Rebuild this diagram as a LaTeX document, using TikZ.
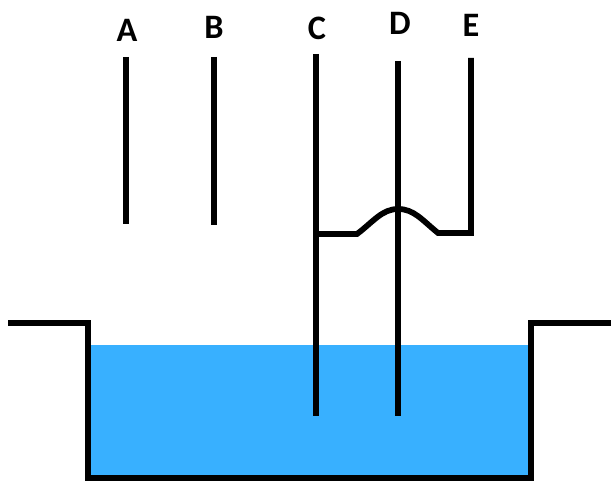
\documentclass[tikz,border=0pt]{standalone}
\usepackage{fontspec}
\setmainfont{Carlito}
\definecolor{waterblue}{HTML}{38B0FF}
\tikzset{
  wire/.style={line width=0.115cm},
  tankwall/.style={line width=0.125cm,line join=miter},
  letter/.style={font=\fontsize{19.5}{22}\selectfont\bfseries,inner sep=0pt}
}

\begin{document}
\begin{tikzpicture}[x=0.02cm,y=0.02cm]
    \useasboundingbox (0,0) rectangle (611,482);
    \coordinate (T0) at (8,159);
    \coordinate (T1) at (88,159);
    \coordinate (T2) at (88,4);
    \coordinate (T3) at (531,4);
    \coordinate (T4) at (531,159);
    \coordinate (T5) at (611,159);
    \coordinate (A0) at (126,425);
    \coordinate (A1) at (126,258);
    \coordinate (B0) at (214,425);
    \coordinate (B1) at (214,257);
    \coordinate (C0) at (316,428);
    \coordinate (C1) at (316,66);
    \coordinate (D0) at (398,421);
    \coordinate (D1) at (398,66);
    \coordinate (E0) at (471,424);
    \coordinate (E1) at (471,249);
    \coordinate (J0) at (316,248);
    \coordinate (J1) at (357,248);
    \coordinate (J2) at (398,273);
    \coordinate (J3) at (438,249);
      \fill [waterblue] (90,6) rectangle (529,137);
      \draw [tankwall] (T0) -- (T1) -- (T2) -- (T3) -- (T4) -- (T5);
      \draw [wire] (A0) -- (A1);
      \draw [wire] (B0) -- (B1);
      \draw [wire] (C0) -- (C1);
      \draw [wire] (D0) -- (D1);
      \draw [wire,line join=miter] (E0) -- (E1) -- (J3)
        .. controls (422,262) and (414,273) .. (J2)
        .. controls (382,273) and (373,260) .. (J1) -- (J0);
      \node [letter] (labelA) at (127,452) {A};
      \node [letter] (labelB) at (214,455) {B};
      \node [letter] (labelC) at (317,454) {C};
      \node [letter] (labelD) at (400,459) {D};
      \node [letter] (labelE) at (471,457) {E};
  \end{tikzpicture}
\end{document}
